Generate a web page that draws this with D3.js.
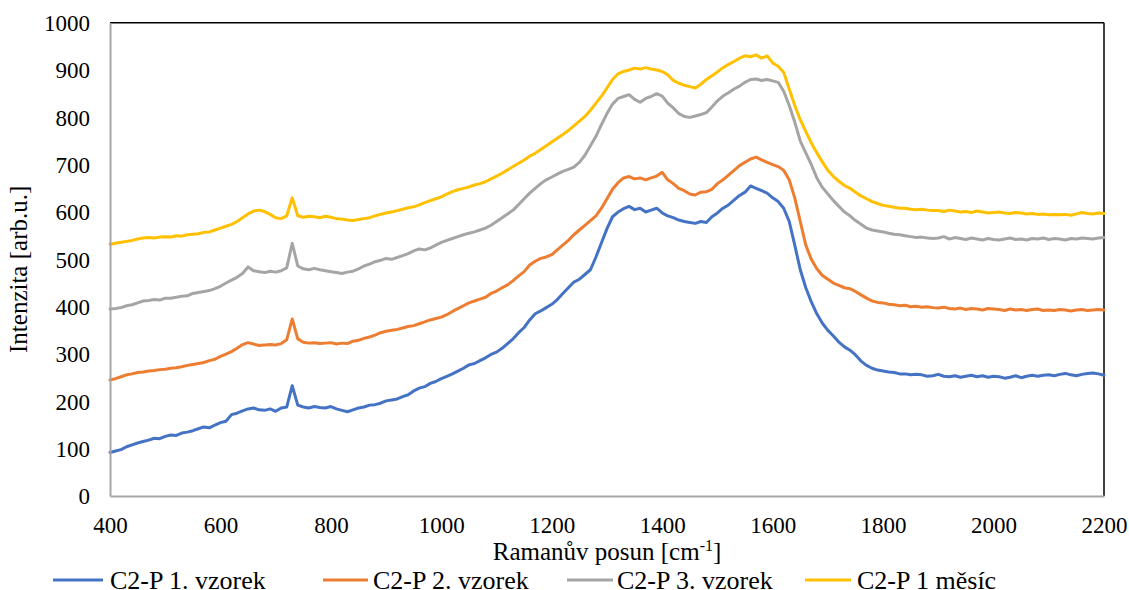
<!DOCTYPE html>
<html>
<head>
<script src="https://cdn.jsdelivr.net/npm/d3@7"></script>
</head>
<body style="margin:0">
<svg id="chart" width="1129" height="590"></svg>
<script>
// ---- DATA ----
const ramanShift = d3.range(400, 2201, 10); // Raman shift grid 400..2200 cm-1

const seriesNames = ["C2-P 1. vzorek", "C2-P 2. vzorek", "C2-P 3. vzorek", "C2-P 1 měsíc"];

const vzorek1 = [
  92,95,98,104,108,112,115,118,122,121,
  126,129,128,133,135,138,142,146,144,150,
  155,158,172,175,180,184,186,182,181,184,
  179,186,188,233,192,188,186,189,187,186,
  189,184,181,178,182,186,188,192,193,196,
  201,203,205,210,214,222,228,231,238,242,
  248,253,258,264,270,277,280,286,292,299,
  304,312,322,332,345,356,372,385,391,398,
  405,415,428,440,452,458,468,478,505,535,
  565,590,600,607,612,605,608,600,604,608,
  598,592,588,583,580,578,576,580,578,590,
  598,608,615,625,635,642,655,650,645,640,
  630,622,608,580,530,478,440,410,385,365,
  350,338,325,315,308,298,285,276,270,266,
  264,262,261,258,258,256,257,256,253,254,
  257,253,252,254,251,253,255,252,254,251,
  253,252,249,251,254,250,253,255,253,255,
  256,254,257,259,256,254,257,259,260,258,
  255
];

const vzorek2 = [
  245,248,252,256,258,261,262,264,265,267,
  268,270,271,273,276,278,280,282,286,289,
  295,300,305,312,320,324,321,318,319,320,
  319,322,330,374,332,325,323,324,322,323,
  324,321,323,322,327,329,333,336,340,345,
  348,350,352,355,358,360,364,368,372,375,
  378,383,390,396,402,408,412,416,420,428,
  433,440,446,455,465,474,488,496,502,505,
  510,520,530,540,552,562,572,582,592,608,
  628,648,662,672,675,670,672,668,672,676,
  684,668,660,650,645,638,636,642,643,648,
  660,668,678,688,698,705,712,716,710,705,
  700,696,688,668,630,580,530,500,480,466,
  458,450,445,440,438,432,425,418,412,409,
  408,405,404,402,403,400,401,399,400,398,
  397,399,396,395,397,394,396,395,393,396,
  395,394,392,395,393,394,392,394,395,392,
  393,392,394,393,391,393,394,392,393,394,
  393
];

const vzorek3 = [
  395,396,398,402,404,408,412,413,415,414,
  418,418,420,422,423,428,430,432,434,438,
  443,450,456,462,470,484,476,474,472,475,
  473,476,482,534,486,480,478,481,478,476,
  474,472,470,473,475,480,486,490,495,498,
  502,500,504,508,512,518,522,520,524,530,
  536,540,544,548,552,555,558,562,566,572,
  580,588,596,604,616,628,640,650,660,668,
  674,680,686,690,695,705,720,740,760,785,
  808,828,840,844,848,838,832,840,844,850,
  845,830,820,808,802,800,803,806,810,822,
  835,845,852,860,866,874,880,881,878,880,
  877,874,855,825,790,750,725,700,672,652,
  638,624,612,600,592,582,574,566,562,560,
  558,555,553,552,550,548,546,547,545,544,
  545,548,543,546,544,542,545,543,541,544,
  542,541,543,545,542,543,541,544,543,545,
  542,544,543,541,544,543,545,544,543,545,
  546
];

const mesic1 = [
  532,534,536,538,540,543,545,546,545,547,
  548,547,550,549,552,553,554,557,558,562,
  566,570,574,580,588,596,602,604,601,595,
  588,586,592,630,592,589,591,590,588,591,
  589,586,585,583,582,584,586,588,592,595,
  598,600,603,606,609,611,615,620,624,628,
  632,638,643,647,650,653,657,660,664,670,
  676,682,689,696,703,710,718,724,732,740,
  748,756,764,772,782,792,802,815,830,845,
  862,880,892,897,900,904,902,905,902,900,
  897,890,878,872,868,865,862,870,880,888,
  896,905,912,918,925,930,928,932,925,930,
  915,908,895,860,825,795,770,746,725,706,
  688,675,665,656,650,642,634,628,622,618,
  614,612,610,608,608,606,605,606,604,603,
  603,601,604,602,600,601,599,602,600,598,
  599,600,598,597,599,598,596,597,595,596,
  594,595,594,595,593,596,599,597,596,598,
  597
];

const seriesValues = [vzorek1, vzorek2, vzorek3, mesic1];
const seriesColors = ["#4472C4", "#ED7D31", "#A5A5A5", "#FFC000"];

const xTicks = [400, 600, 800, 1000, 1200, 1400, 1600, 1800, 2000, 2200];
const yTicks = [0, 100, 200, 300, 400, 500, 600, 700, 800, 900, 1000];

// ---- LAYOUT ----
const FAM = '"Liberation Serif"';
const svg = d3.select("#chart");
const plot = { left: 110, right: 1104, top: 22.7, bottom: 496 };
const tickSize = 23, titleSize = 25, legendSize = 26;

function serif(sel, size) {
  sel.style("font-family", FAM).style("font-size", size + "px");
  return sel;
}

const x = d3.scaleLinear().domain([400, 2200]).range([plot.left, plot.right]);
const y = d3.scaleLinear().domain([0, 1000]).range([plot.bottom, plot.top]);

// Plot border: top/right black
svg.append("line").attr("x1", plot.left).attr("x2", plot.right)
  .attr("y1", plot.top).attr("y2", plot.top).attr("stroke", "#000").attr("stroke-width", 1.5);
svg.append("line").attr("x1", plot.right).attr("x2", plot.right)
  .attr("y1", plot.top).attr("y2", plot.bottom).attr("stroke", "#000").attr("stroke-width", 1.5);

// Series lines
const line = d3.line()
  .x((d, i) => x(ramanShift[i]))
  .y(d => y(d))
  .curve(d3.curveLinear);

seriesValues.forEach((vals, k) => {
  svg.append("path")
    .datum(vals)
    .attr("d", line)
    .attr("fill", "none")
    .attr("stroke", seriesColors[k])
    .attr("stroke-width", 3)
    .attr("stroke-linejoin", "round")
    .attr("stroke-linecap", "round");
});

// Axes
const yAxis = d3.axisLeft(y).tickValues(yTicks).tickSize(0).tickPadding(20)
  .tickFormat(d3.format("d"));
const gy = svg.append("g").attr("transform", `translate(${plot.left},0)`).call(yAxis);
gy.attr("font-family", null).attr("font-size", null);
gy.select(".domain").attr("stroke", "#A6A6A6").attr("stroke-width", 2);
serif(gy.selectAll("text"), tickSize).attr("fill", "#000").attr("dy", "0.34em");

const xAxis = d3.axisBottom(x).tickValues(xTicks).tickSize(0)
  .tickFormat(d3.format("d"));
const gx = svg.append("g").attr("transform", `translate(0,${plot.bottom})`).call(xAxis);
gx.attr("font-family", null).attr("font-size", null);
gx.select(".domain").attr("stroke", "#A6A6A6").attr("stroke-width", 2);
serif(gx.selectAll("text"), tickSize).attr("fill", "#000").attr("dy", "0.34em").attr("y", 29);

// Axis titles
serif(svg.append("text"), titleSize)
  .attr("transform", `translate(27,${(plot.top + plot.bottom) / 2 + 10}) rotate(-90)`)
  .attr("text-anchor", "middle")
  .text("Intenzita [arb.u.]");

const xt = serif(svg.append("text"), titleSize)
  .attr("x", (plot.left + plot.right) / 2).attr("y", 560)
  .attr("text-anchor", "middle");
xt.append("tspan").text("Ramanův posun [cm");
xt.append("tspan").attr("dy", -9).style("font-size", "16px").text("-1");
xt.append("tspan").attr("dy", 9).text("]");

// Legend
const legendItems = [
  { x1: 53, x2: 103, tx: 110 },
  { x1: 323, x2: 368, tx: 373 },
  { x1: 567, x2: 613, tx: 617 },
  { x1: 805, x2: 851, tx: 857 }
];
const legendY = 580;
seriesNames.forEach((name, k) => {
  const it = legendItems[k];
  svg.append("line").attr("x1", it.x1).attr("x2", it.x2)
    .attr("y1", legendY).attr("y2", legendY)
    .attr("stroke", seriesColors[k]).attr("stroke-width", 3);
  serif(svg.append("text"), legendSize).attr("x", it.tx).attr("y", legendY).attr("dy", "0.34em")
    .text(name);
});
</script>
</body>
</html>
